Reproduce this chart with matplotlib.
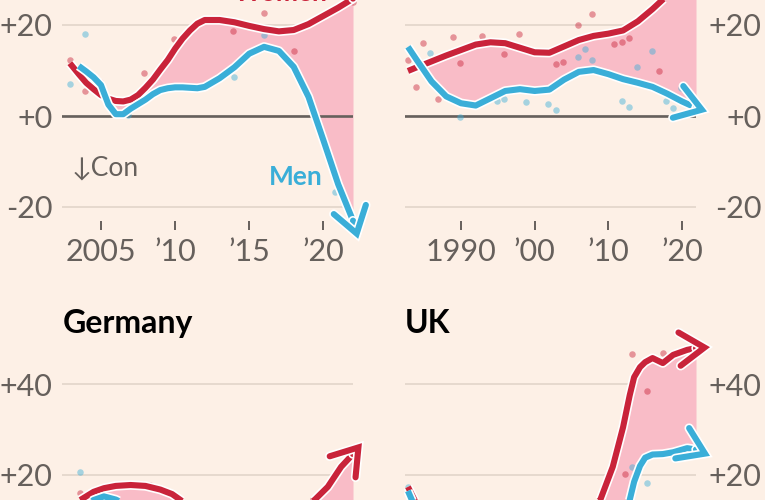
import matplotlib
matplotlib.use('Agg')
import matplotlib.pyplot as plt
import matplotlib.patheffects as pe
import numpy as np

# ---- colours ----
BG = '#fdf0e6'
RED = '#c9233a'
BLUE = '#3aaed8'
PINK = '#f9bcc7'
GRID = '#e2d5ca'
TEXT = '#66605c'

# ---- top-left panel ----
tl_years = [2002.9, 2003.5, 2004, 2004.5, 2005, 2005.5, 2006, 2006.5, 2007, 2007.5,
            2008, 2008.5, 2009, 2009.5, 2010, 2010.5, 2011, 2011.5, 2012, 2013,
            2014, 2015, 2016, 2017, 2018, 2019, 2020, 2021, 2022.0, 2022.35]
tl_women = [11.6, 9.2, 7.3, 5.9, 4.6, 3.8, 3.3, 3.2, 3.6, 4.6,
            6.2, 8.0, 10.2, 12.3, 14.8, 17.0, 18.8, 20.3, 21.1, 21.1,
            20.6, 19.8, 19.1, 18.6, 18.9, 20.2, 22.0, 23.8, 25.8, 37.0]
tl_men = [np.nan, 11.0, 9.8, 8.5, 6.8, 2.5, 0.4, 0.4, 1.6, 2.6,
          3.6, 4.8, 5.7, 6.1, 6.3, 6.3, 6.2, 6.1, 6.4, 8.3,
          10.7, 13.7, 15.2, 14.3, 10.8, 4.2, -5.3, -15.0, -23.0, -27.0]
tl_women_dots_x = [2002.9, 2003.9, 2004.9, 2007.9, 2009.9, 2013.9, 2016.0, 2018.0, 2022.0]
tl_women_dots_y = [12.3, 5.5, 7.5, 9.4, 16.9, 18.7, 22.6, 14.3, 25.0]
tl_men_dots_x = [2002.9, 2003.9, 2006.8, 2008.9, 2014.0, 2016.0, 2020.8]
tl_men_dots_y = [7.0, 18.0, 0.2, 5.7, 8.6, 17.8, -16.7]
tl_ticks = [2005, 2010, 2015, 2020]
tl_ticklabels = ['2005', '\u201910', '\u201915', '\u201920']

# ---- top-right panel ----
tr_years = [1982.8, 1984, 1986, 1988, 1990, 1992, 1994, 1996, 1998, 2000, 2002,
            2004, 2006, 2008, 2010, 2012, 2014, 2016, 2018, 2020, 2021.9, 2023.4]
tr_women = [9.9, 10.7, 12.0, 13.3, 14.5, 15.7, 16.2, 16.0, 15.0, 14.0, 13.9,
            15.3, 16.7, 17.6, 18.1, 18.8, 20.8, 23.5, 26.5, 30.0, 33.0, 35.0]
tr_men = [15.2, 12.3, 7.6, 4.3, 2.8, 2.3, 3.9, 5.5, 5.9, 5.5, 5.8,
          8.0, 9.7, 10.1, 9.2, 8.1, 7.3, 6.4, 4.9, 3.2, 1.8, 1.0]
tr_women_dots_x = [1982.8, 1983.9, 1984.8, 1986.9, 1988.9, 1989.9, 1992.8, 1995.8, 1997.9,
                   2002.9, 2003.8, 2005.9, 2007.8, 2010.8, 2011.9, 2012.8, 2016.9]
tr_women_dots_y = [12.3, 6.4, 16.0, 3.7, 17.4, 11.6, 17.6, 13.6, 18.0,
                   11.4, 11.9, 20.0, 22.4, 15.8, 16.3, 17.1, 9.9]
tr_men_dots_x = [1985.8, 1989.9, 1994.9, 1995.8, 1998.8, 2001.8, 2002.9, 2005.9, 2006.8,
                 2007.8, 2011.9, 2012.8, 2013.9, 2015.9, 2017.8, 2018.8, 2019.9]
tr_men_dots_y = [13.8, -0.2, 3.3, 3.7, 3.1, 2.6, 1.3, 13.0, 14.7,
                 12.3, 3.3, 2.0, 10.8, 14.3, 3.3, 1.8, 6.2]
tr_ticks = [1990, 2000, 2010, 2020]
tr_ticklabels = ['1990', '\u201900', '\u201910', '\u201920']

# ---- Germany ----
de_years = [2003.6, 2004.5, 2005.2, 2006, 2007, 2008, 2009, 2009.8, 2010.5, 2012,
            2014, 2016, 2018, 2019.4, 2020.3, 2021.2, 2022.0, 2022.6]
de_women = [14.5, 16.3, 17.1, 17.6, 17.8, 17.6, 16.8, 15.8, 14.2, 11.5,
            10.0, 10.5, 12.0, 14.5, 17.4, 21.8, 24.6, 27.0]
de_men = [12.5, 14.5, 15.3, 14.6, 13.0, 11.5, 10.5, 10.0, 9.5, 8.5,
          7.5, 7.0, 7.5, 8.5, 9.5, 10.5, 11.0, 11.2]
de_women_dots_x = [2003.6, 2007.3, 2007.8, 2008.3, 2010.2, 2019.3]
de_women_dots_y = [16.0, 17.8, 18.0, 17.8, 14.7, 14.7]
de_men_dots_x = [2003.6]
de_men_dots_y = [20.7]

# ---- UK ----
uk_years = [1982.8, 1984, 1990, 2000, 2006, 2008.9, 2010.6, 2012, 2012.9, 2013.5,
            2014.3, 2015, 2016, 2017.4, 2018.8, 2020.7, 2021.9, 2023.8]
uk_women = [17.4, 13.5, 11.0, 10.0, 11.0, 14.5, 21.8, 30.5, 37.5, 41.5,
            43.7, 44.8, 45.7, 44.6, 46.4, 47.5, 47.9, 48.1]
uk_men = [16.5, 12.0, 8.0, 7.0, 7.0, 8.0, 9.0, 11.5, 14.5, 18.5,
          22.0, 23.8, 24.5, 24.6, 25.0, 25.9, 25.6, 24.2]
uk_women_dots_x = [2012.2, 2013.2, 2015.3, 2017.4]
uk_women_dots_y = [20.2, 46.6, 38.5, 46.8]
uk_men_dots_x = [1982.8, 2013.2, 2015.3]
uk_men_dots_y = [17.4, 21.8, 18.2]

plt.rcParams['font.family'] = ['Lato', 'DejaVu Sans']
plt.rcParams['font.size'] = 22

W, H = 765, 500
PPU = 4.55  # pixels per percentage point

fig = plt.figure(figsize=(W / 100, H / 100), dpi=100)
fig.patch.set_facecolor(BG)


def add_panel(x0, x1, xlim, ref_px, ref_val, ylim):
    y_top = ref_px - (ylim[1] - ref_val) * PPU
    y_bot = ref_px - (ylim[0] - ref_val) * PPU
    ax = fig.add_axes([x0 / W, 1 - y_bot / H, (x1 - x0) / W, (y_bot - y_top) / H])
    ax.set_xlim(*xlim)
    ax.set_ylim(*ylim)
    ax.set_facecolor('none')
    for s in ax.spines.values():
        s.set_visible(False)
    return ax


def outline(w):
    return [pe.Stroke(linewidth=w + 2.4, foreground='white'), pe.Normal()]


def draw_series(ax, years, women, men, wdx, wdy, mdx, mdy):
    x = np.array(years)
    w = np.array(women)
    m = np.array(men)
    ax.fill_between(x[:-1], w[:-1], m[:-1], where=w[:-1] > m[:-1], interpolate=True,
                    color=PINK, lw=0, zorder=1)
    ax.scatter(wdx, wdy, s=22, color=RED, alpha=0.45, lw=0, zorder=2, clip_on=False)
    ax.scatter(mdx, mdy, s=22, color=BLUE, alpha=0.45, lw=0, zorder=2, clip_on=False)
    for vals, col, z in [(w, RED, 4), (m, BLUE, 5)]:
        ax.plot(x[:-1], vals[:-1], color=col, lw=4.4, zorder=z, clip_on=False,
                solid_joinstyle='round', solid_capstyle='butt', path_effects=outline(4.4))
        ann = ax.annotate('', xy=(x[-1], vals[-1]), xytext=(x[-2], vals[-2]),
                          arrowprops=dict(arrowstyle='->,head_length=0.75,head_width=0.5',
                                          color=col, lw=4.4, shrinkA=0, shrinkB=0,
                                          mutation_scale=24, joinstyle='miter'),
                          zorder=z, annotation_clip=False)
        ann.arrow_patch.set_path_effects(outline(4.4))


def style_y(ax, ticks, labels, right=False):
    ax.set_yticks(ticks)
    ax.set_yticklabels(labels)
    ax.grid(axis='y', color=GRID, lw=1.2, zorder=0)
    ax.set_axisbelow(True)
    if 0 in ticks:
        ax.axhline(0, color=TEXT, lw=1.9, zorder=1.5)
    if right:
        ax.yaxis.tick_right()
        ax.tick_params(axis='y', length=0, pad=47, labelcolor=TEXT)
        for lab in ax.get_yticklabels():
            lab.set_ha('right')
    else:
        ax.tick_params(axis='y', length=0, pad=7, labelcolor=TEXT)


def style_x(ax, ticks, labels):
    ax.set_xticks(ticks)
    ax.set_xticklabels(labels)
    ax.tick_params(axis='x', length=6.5, width=1.4, color=TEXT, pad=6, labelcolor=TEXT)


# top-left
ax = add_panel(62, 353, (2002.37, 2022.0), 116, 0, (-23.1, 28))
style_y(ax, [-20, 0, 20], ['-20', '+0', '+20'])
style_x(ax, tl_ticks, tl_ticklabels)
draw_series(ax, tl_years, tl_women, tl_men, tl_women_dots_x, tl_women_dots_y,
            tl_men_dots_x, tl_men_dots_y)
ax.text(2003.05, -11.4, '\u2193Con', color=TEXT, fontsize=19, va='center', ha='left')
ax.text(2016.3, -13.4, 'Men', color=BLUE, fontsize=19, fontweight='bold', va='center', ha='left')
ax.text(2017.1, 25.3, 'Women', color=RED, fontsize=19, fontweight='bold', va='baseline',
        ha='center', clip_on=False)

# top-right
ax = add_panel(405, 696, (1982.4, 2021.9), 116, 0, (-23.1, 28))
style_y(ax, [-20, 0, 20], ['-20', '+0', '+20'], right=True)
style_x(ax, tr_ticks, tr_ticklabels)
draw_series(ax, tr_years, tr_women, tr_men, tr_women_dots_x, tr_women_dots_y,
            tr_men_dots_x, tr_men_dots_y)

# Germany
ax = add_panel(62, 353, (2002.37, 2022.0), 475, 20, (12, 50))
style_y(ax, [20, 40], ['+20', '+40'])
ax.set_xticks([])
draw_series(ax, de_years, de_women, de_men, de_women_dots_x, de_women_dots_y,
            de_men_dots_x, de_men_dots_y)
fig.text(63 / W, 1 - 333 / H, 'Germany', fontsize=23, fontweight='bold', color='black',
         va='baseline', ha='left')

# UK
ax = add_panel(405, 696, (1982.4, 2021.9), 475, 20, (12, 50))
style_y(ax, [20, 40], ['+20', '+40'], right=True)
ax.set_xticks([])
draw_series(ax, uk_years, uk_women, uk_men, uk_women_dots_x, uk_women_dots_y,
            uk_men_dots_x, uk_men_dots_y)
fig.text(405 / W, 1 - 333 / H, 'UK', fontsize=23, fontweight='bold', color='black',
         va='baseline', ha='left')

fig.savefig('out.png', dpi=100, facecolor=BG)
